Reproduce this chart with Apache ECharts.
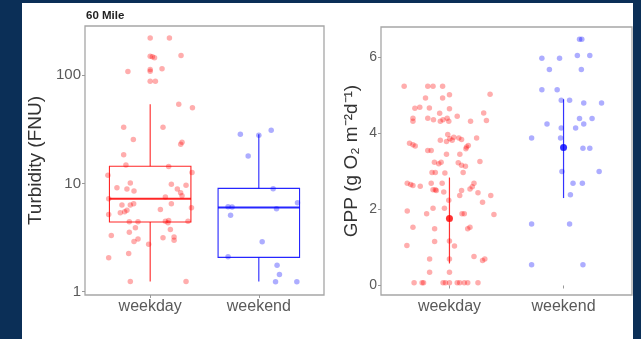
<!DOCTYPE html>
<html><head><meta charset="utf-8">
<script src="https://cdn.jsdelivr.net/npm/echarts@6/dist/echarts.min.js"></script>
<style>html,body{margin:0;padding:0;background:#0b2f57;}#c{width:641px;height:339px;}</style>
</head><body><div id="c"></div>
<script>
const categories = ['weekday', 'weekend'];
const panelTitle = '60 Mile';
const turbTicks = [1, 10, 100];
const gppTicks = [0, 2, 4, 6];

// Turbidity jittered points (value, horizontal jitter in category units)
const turbWeekdayVals = [221,221,150,148,145,152,108,113,109,115,88,88,54,50,33,33,25.5,24,23,18.4,
  14.8,14.3,11.9,12.6,9.1,10.1,8.9,8.5,9.8,8.9,9.6,8.2,7.7,7.2,7.5,6.3,6.3,6.5,5.66,5.47,5.36,5.16,5.74,6.5,5.96,
  4.42,4.42,4.48,4.33,4.55,4.48,3.3,3.54,3.89,3.75,3.07,2.9,3.14,3.2,2.98,2.74,2.05,2.25,1.24,1.24];
const turbWeekdayJitter = [0,0.177,0,0.02,0.04,0.284,-0.205,0,0,0.109,0,0.048,0.263,0.389,-0.244,0.118,-0.155,0.293,0.281,-0.244,
  -0.223,0.17,-0.389,0.385,-0.306,-0.183,-0.214,-0.149,0.195,0.25,0.33,0.28,0.293,-0.382,0.14,-0.26,-0.183,-0.152,-0.214,-0.235,-0.275,-0.382,0.094,0.195,0.38,
  -0.192,-0.112,0.14,0.164,0.17,0.348,-0.358,-0.192,-0.136,0.186,-0.112,-0.149,0.118,0.22,0.22,-0.014,-0.382,-0.198,-0.183,0.33];
const turbWeekendVals = [28.4,27.8,31,17.9,8.93,6.08,6.04,5.09,5.83,6.62,2.89,2.1,1.75,1.44,1.23,1.23];
const turbWeekendJitter = [-0.17,0,0.114,-0.098,0.132,-0.283,-0.246,-0.26,0.163,0.356,0.031,-0.283,0.168,0.19,0.154,0.35];

// Box stats: [category position, lower whisker, Q1, median, Q3, upper whisker]
const turbBoxWeekday = [1, 1.24, 4.4, 7.2, 14.4, 54];
const turbBoxWeekend = [2, 1.24, 2.07, 6.0, 9.0, 28.5];

// GPP jittered points
const gppWeekdayVals = [5.24,5.24,5.24,5.24,5.03,4.93,4.93,5.02,4.66,4.69,4.67,4.65,4.53,4.54,4.4,4.32,4.4,4.36,4.32,4.36,4.4,4.32,4.45,4.32,4.34,
  3.97,3.86,3.82,3.9,3.79,3.82,3.88,3.84,3.64,3.68,3.6,3.88,3.74,3.7,3.67,3.55,3.55,3.45,3.45,3.24,3.2,3.24,3.23,3.16,3.14,3.26,2.97,2.97,2.96,2.97,
  2.69,2.66,2.63,2.61,2.69,2.52,2.52,2.5,2.69,2.46,2.24,2.5,2.37,2.54,2.6,2.69,2.44,2.37,2.19,1.96,1.89,2.03,2.03,1.89,1.89,1.87,
  1.53,1.49,1.49,1.53,1.05,1.16,1.17,1.04,0.70,0.70,0.76,0.66,0.70,0.35,0.35,
  0.07,0.07,0.07,0.07,0.07,0.07,0.07,0.07,0.07,0.07,0.07];
const gppWeekdayJitter = [-0.397,-0.19,-0.144,-0.06,0.356,-0.21,-0.06,0,-0.303,-0.26,-0.176,0,-0.086,0.3,-0.32,-0.32,-0.19,-0.14,-0.08,-0.056,-0.02,-0.006,0.068,0.185,0.324,
  -0.015,0.003,0.024,0.038,-0.026,-0.08,0.082,0.106,0.15,0.165,0.144,0.238,-0.35,-0.32,-0.3,-0.19,-0.16,-0.026,0.091,-0.132,-0.094,-0.073,0.077,0.106,0.14,0.267,-0.153,-0.124,-0.04,0.12,
  -0.37,-0.34,-0.32,-0.256,-0.16,-0.144,-0.124,-0.115,-0.064,-0.05,-0.006,0.106,0.09,0.18,0.2,0.215,0.25,0.362,0.29,-0.37,-0.2,-0.144,-0.044,0.11,0.13,0.39,
  -0.32,-0.13,0.16,0.18,-0.373,-0.13,0,0.044,-0.174,0,0.215,0.29,0.31,-0.174,0,
  -0.31,-0.24,-0.227,-0.056,-0.035,0,0.068,0.09,0.13,0.16,0.25];
const gppWeekendVals = [6.48,6.48,5.98,5.98,6.05,6.05,5.68,5.68,5.15,5.15,4.87,4.87,4.8,4.8,4.25,4.39,4.25,4.39,4.14,4.14,
  3.88,3.88,3.61,3.61,3.0,3.0,2.69,2.69,2.39,1.62,1.62,0.545,0.545];
const gppWeekendJitter = [0.14,0.16,-0.19,-0.035,0.121,0.23,-0.124,0.156,-0.19,-0.056,-0.02,0.053,0.177,0.333,-0.145,0.14,0.177,0.25,0.106,-0.02,
  -0.28,-0.026,0.17,0.23,-0.014,0.312,0.083,0.165,0.06,-0.28,0.053,-0.28,0.17];

// GPP summary: [category position, mean, lower, upper]
const gppSummaryWeekday = [1, 1.76, 0.58, 2.84];
const gppSummaryWeekend = [2, 3.63, 2.30, 4.90];

const RED = '#ff0000', BLUE = '#0000ff';
const RED_PT = 'rgba(255,0,0,0.4)', BLUE_PT = 'rgba(0,0,255,0.4)';
const FONT = '"Liberation Sans", Arial, Helvetica, sans-serif';

function pts(vals, jit, pos) { return vals.map((v, i) => [pos + jit[i], v]); }

function boxRender(color) {
  return function (params, api) {
    const x = api.value(0), lo = api.value(1), q1 = api.value(2), med = api.value(3), q3 = api.value(4), hi = api.value(5);
    const xl = api.coord([x - 0.375, q1])[0], xr = api.coord([x + 0.375, q1])[0];
    const xc = api.coord([x, q1])[0];
    const yq1 = api.coord([x, q1])[1], yq3 = api.coord([x, q3])[1], ym = api.coord([x, med])[1];
    const ylo = api.coord([x, lo])[1], yhi = api.coord([x, hi])[1];
    const ls = { stroke: color, lineWidth: 1.1, opacity: 0.85 };
    return { type: 'group', children: [
      { type: 'line', shape: { x1: xc, y1: yq3, x2: xc, y2: yhi }, style: ls },
      { type: 'line', shape: { x1: xc, y1: yq1, x2: xc, y2: ylo }, style: ls },
      { type: 'rect', shape: { x: xl, y: yq3, width: xr - xl, height: yq1 - yq3 }, style: { fill: 'none', stroke: color, lineWidth: 1.1, opacity: 0.85 } },
      { type: 'line', shape: { x1: xl, y1: ym, x2: xr, y2: ym }, style: { stroke: color, lineWidth: 2, opacity: 0.85 } }
    ]};
  };
}
function errRender(color) {
  return function (params, api) {
    const x = api.value(0), lo = api.value(2), hi = api.value(3);
    const p1 = api.coord([x, lo]), p2 = api.coord([x, hi]);
    return { type: 'line', shape: { x1: p1[0], y1: p1[1], x2: p2[0], y2: p2[1] }, style: { stroke: color, lineWidth: 1.2, opacity: 0.8 } };
  };
}

const labelColor = '#5a5a5a';
const xAxisCommon = {
  type: 'value', min: 0.4, max: 2.6,
  splitLine: { show: false }, axisLine: { show: false },
  axisTick: { customValues: [1, 2], length: 3, lineStyle: { color: '#999' } },
  axisLabel: { customValues: [1, 2], formatter: v => categories[Math.round(v) - 1], fontSize: 16, color: labelColor, margin: 4, fontFamily: FONT }
};

const chart = echarts.init(document.getElementById('c'), null, { renderer: 'canvas' });
chart.setOption({
  backgroundColor: '#0b2f57',
  animation: false,
  textStyle: { fontFamily: FONT },
  graphic: [
    { type: 'rect', z: -100, silent: true, shape: { x: 22, y: 3, width: 611, height: 340 }, style: { fill: '#ffffff' } },
    { type: 'text', left: 86, top: 10, silent: true, style: { text: panelTitle, fontSize: 11.5, fontWeight: 'bold', fill: '#222', fontFamily: FONT } }
  ],
  grid: [
    { left: 85, top: 26, width: 239, height: 269, show: true, borderColor: '#a6a6a6', borderWidth: 1.3, backgroundColor: 'transparent' },
    { left: 381, top: 27, width: 251, height: 268, show: true, borderColor: '#a6a6a6', borderWidth: 1.3, backgroundColor: 'transparent' }
  ],
  xAxis: [
    Object.assign({ gridIndex: 0 }, xAxisCommon),
    Object.assign({ gridIndex: 1 }, xAxisCommon)
  ],
  yAxis: [
    { gridIndex: 0, type: 'log', logBase: 10, min: 0.93, max: 285,
      name: 'Turbidity (FNU)', nameLocation: 'middle', nameGap: 40, nameRotate: 90,
      nameTextStyle: { fontSize: 19, color: '#333', fontFamily: FONT },
      splitLine: { show: false }, axisLine: { show: false },
      axisTick: { customValues: turbTicks, length: 3, lineStyle: { color: '#999' } },
      axisLabel: { customValues: turbTicks, fontSize: 15, color: labelColor, margin: 4, fontFamily: FONT } },
    { gridIndex: 1, type: 'value', min: -0.25, max: 6.8,
      name: 'GPP (g O\u2082 m\u207B\u00B2d\u207B\u00B9)', nameLocation: 'middle', nameGap: 20, nameRotate: 90,
      nameTextStyle: { fontSize: 19, color: '#333', fontFamily: FONT },
      splitLine: { show: false }, axisLine: { show: false },
      axisTick: { customValues: gppTicks, length: 3, lineStyle: { color: '#999' } },
      axisLabel: { customValues: gppTicks, fontSize: 14, color: labelColor, margin: 4, fontFamily: FONT } }
  ],
  series: [
    { type: 'custom', xAxisIndex: 0, yAxisIndex: 0, renderItem: boxRender(RED), data: [turbBoxWeekday], z: 2 },
    { type: 'custom', xAxisIndex: 0, yAxisIndex: 0, renderItem: boxRender(BLUE), data: [turbBoxWeekend], z: 2 },
    { type: 'scatter', xAxisIndex: 0, yAxisIndex: 0, data: pts(turbWeekdayVals, turbWeekdayJitter, 1), symbolSize: 5.5, itemStyle: { color: RED_PT }, z: 3 },
    { type: 'scatter', xAxisIndex: 0, yAxisIndex: 0, data: pts(turbWeekendVals, turbWeekendJitter, 2), symbolSize: 5.5, itemStyle: { color: BLUE_PT }, z: 3 },
    { type: 'scatter', xAxisIndex: 1, yAxisIndex: 1, data: pts(gppWeekdayVals, gppWeekdayJitter, 1), symbolSize: 5.5, itemStyle: { color: RED_PT }, z: 3 },
    { type: 'scatter', xAxisIndex: 1, yAxisIndex: 1, data: pts(gppWeekendVals, gppWeekendJitter, 2), symbolSize: 5.5, itemStyle: { color: BLUE_PT }, z: 3 },
    { type: 'custom', xAxisIndex: 1, yAxisIndex: 1, renderItem: errRender(RED), data: [gppSummaryWeekday], z: 4 },
    { type: 'custom', xAxisIndex: 1, yAxisIndex: 1, renderItem: errRender(BLUE), data: [gppSummaryWeekend], z: 4 },
    { type: 'scatter', xAxisIndex: 1, yAxisIndex: 1, data: [[gppSummaryWeekday[0], gppSummaryWeekday[1]]], symbolSize: 7, itemStyle: { color: RED }, z: 5 },
    { type: 'scatter', xAxisIndex: 1, yAxisIndex: 1, data: [[gppSummaryWeekend[0], gppSummaryWeekend[1]]], symbolSize: 7, itemStyle: { color: BLUE }, z: 5 }
  ]
});
</script>
</body></html>
